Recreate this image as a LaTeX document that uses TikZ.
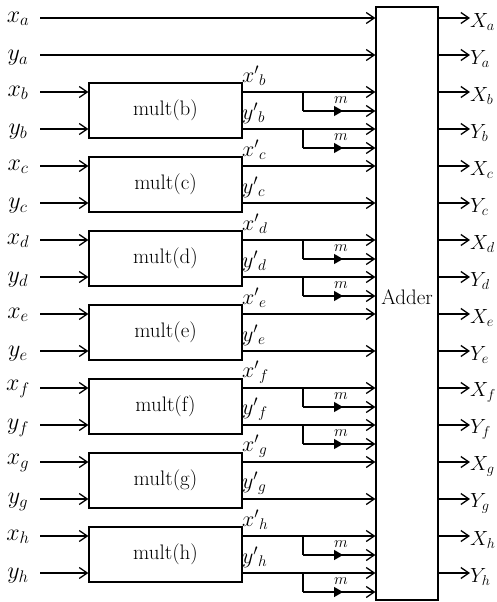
\RequirePackage{fix-cm}
\documentclass[tikz,border=0pt]{standalone}
\usetikzlibrary{arrows.meta,decorations.markings}
\begin{document}
\begin{tikzpicture}[x=1pt,y=-1pt,
  ln/.style={line width=1.3pt},
  arr/.style={ln,-{Straight Barb[length=8pt,width=11pt,line width=1.3pt]}},
  multbox/.style={draw,ln,minimum width=153pt,minimum height=55pt,inner sep=0pt,font=\fontsize{21}{24}\selectfont},
  lab/.style={inner sep=0pt,font=\fontsize{24}{28}\selectfont},
  olab/.style={inner sep=0pt,anchor=west,font=\fontsize{20.5}{24}\selectfont},
  plab/.style={inner sep=0pt,anchor=west,font=\fontsize{22}{25}\selectfont},
  mlab/.style={inner sep=0pt,font=\fontsize{16}{19}\selectfont},
  midtri/.style={postaction={decorate},decoration={markings,mark=at position 40pt with {\arrow{Triangle[length=9pt,width=10pt]}}}}
]
\useasboundingbox (0,0) rectangle (496,602);
\node[draw,ln,minimum width=62pt,minimum height=593pt,inner sep=0pt] (adder) at (407,303.5) {};
\node[inner sep=0pt,font=\fontsize{21}{24}\selectfont] (addlab) at (407,297) {Adder};
\foreach \l [count=\k from 0] in {a,b,c,d,e,f,g,h}{
  \pgfmathsetmacro\ya{18+74*\k}
  \pgfmathsetmacro\yb{\ya+37}
  \node[lab] (lx\l) at (18,\ya+1) {$x_{\l}$};
  \node[lab] (ly\l) at (18,\yb+3) {$y_{\l}$};
  \coordinate (ix\l) at (40,\ya);
  \coordinate (iy\l) at (40,\yb);
  \coordinate (ox\l) at (470,\ya);
  \coordinate (oy\l) at (470,\yb);
  \node[olab] (oX\l) at (470,\ya+4) {$X_{\l}$};
  \node[olab] (oY\l) at (470,\yb+4) {$Y_{\l}$};
  \draw[arr] (ox\l -| adder.east) -- (ox\l);
  \draw[arr] (oy\l -| adder.east) -- (oy\l);
  \ifnum\k=0
    \draw[arr] (ix\l) -- (ix\l -| adder.west);
    \draw[arr] (iy\l) -- (iy\l -| adder.west);
  \else
    \node[multbox] (m\l) at (165.5,\ya+18.5) {mult(\l)};
    \draw[arr] (ix\l) -- (ix\l -| m\l.west);
    \draw[arr] (iy\l) -- (iy\l -| m\l.west);
    \draw[arr] (ix\l -| m\l.east) -- (ix\l -| adder.west);
    \draw[arr] (iy\l -| m\l.east) -- (iy\l -| adder.west);
    \node[plab] (px\l) at (242,\ya-16) {$x'{}_{\l}$};
    \node[plab] (py\l) at (242,\yb-16) {$y'{}_{\l}$};
    \ifodd\k
      \coordinate (bx\l) at (303,\ya);
      \coordinate (bxd\l) at (303,\ya+19);
      \coordinate (by\l) at (303,\yb);
      \coordinate (byd\l) at (303,\yb+19);
      \draw[ln] (bx\l) -- (bxd\l);
      \draw[ln] (by\l) -- (byd\l);
      \draw[arr,midtri] (bxd\l) -- (bxd\l -| adder.west);
      \draw[arr,midtri] (byd\l) -- (byd\l -| adder.west);
      \node[mlab] (mx\l) at (341,\ya+8) {$m$};
      \node[mlab] (my\l) at (341,\yb+8) {$m$};
    \fi
  \fi
}
\end{tikzpicture}
\end{document}
